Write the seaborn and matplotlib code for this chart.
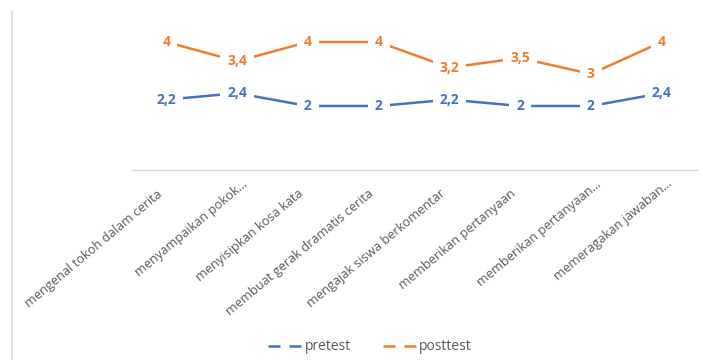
import matplotlib
matplotlib.use("Agg")
import matplotlib.pyplot as plt
import matplotlib.transforms as mtransforms
import seaborn as sns
import pandas as pd
from matplotlib.lines import Line2D

categories = ["mengenal tokoh dalam cerita", "menyampaikan pokok...", "menyisipkan kosa kata",
              "membuat gerak dramatis cerita", "mengajak siswa berkomentar", "memberikan pertanyaan",
              "memberikan pertanyaan...", "memeragakan jawaban..."]
pretest = [2.2, 2.4, 2, 2, 2.2, 2, 2, 2.4]
posttest = [4, 3.4, 4, 4, 3.2, 3.5, 3, 4]
series_names = ["pretest", "posttest"]
colors = ["#4472C4", "#ED7D31"]

sns.set_theme(style="white")
plt.rcParams['font.family'] = ['Open Sans', 'DejaVu Sans']

df = pd.DataFrame({
    "x": list(range(len(categories))) * 2,
    "value": pretest + posttest,
    "series": ["pretest"] * len(categories) + ["posttest"] * len(categories),
})

fig = plt.figure(figsize=(7.03, 3.6), dpi=100)
ax = fig.add_axes([131 / 703, 1 - 170 / 360, 566 / 703, 160 / 360])
sns.lineplot(data=df, x="x", y="value", hue="series", palette=dict(zip(series_names, colors)),
             linewidth=1.8, ax=ax, legend=False, zorder=2)

for vals, c in zip([pretest, posttest], colors):
    for i, v in enumerate(vals):
        ax.text(i, v, f"{v:g}".replace(".", ","), color=c, fontsize=10, fontweight="bold",
                ha="center", va="center", zorder=3,
                bbox=dict(boxstyle="square,pad=0.5", fc="white", ec="none"))

ax.set_xlim(-0.5, len(categories) - 0.5)
ax.set_ylim(0, 5)
ax.set_xticks(range(len(categories)))
ax.set_xticklabels(categories, rotation=40, ha="right", va="baseline", rotation_mode="anchor",
                   fontsize=9.2, color="#595959")
ax.tick_params(axis="x", length=0, pad=18)
for lbl in ax.get_xticklabels():
    if lbl.get_text().endswith("..."):
        off = mtransforms.ScaledTranslation(11 / 100, 10 / 100, fig.dpi_scale_trans)
    else:
        off = mtransforms.ScaledTranslation(-4 / 100, 0, fig.dpi_scale_trans)
    lbl.set_transform(lbl.get_transform() + off)
ax.set_yticks([])
ax.set_xlabel("")
ax.set_ylabel("")
for s in ["top", "left", "right"]:
    ax.spines[s].set_visible(False)
ax.spines["bottom"].set_color("#D9D9D9")
ax.spines["bottom"].set_linewidth(1)

# left frame line with small ticks
ax2 = fig.add_axes([12 / 703, 0, 0.001, 1 - 12 / 360])
ax2.set_facecolor("none")
for s in ["top", "bottom", "right"]:
    ax2.spines[s].set_visible(False)
ax2.spines["left"].set_color("#D9D9D9")
ax2.set_xticks([])
ax2.set_ylim(0, 348)
ax2.set_yticks([348 - (t - 12) for t in [25, 43, 61, 78, 96, 113, 131, 148, 166, 183, 201, 218, 236, 253, 271, 288, 306, 323, 341]])
ax2.set_yticklabels([])
ax2.tick_params(axis="y", length=2, width=0.8, color="#7F7F7F", direction="out")

handles = [Line2D([0], [0], color=c, lw=1.8, linestyle=(0, (4.8, 3.6))) for c in colors]
fig.legend(handles, series_names, loc="center", bbox_to_anchor=(370 / 703, 1 - 347 / 360),
           ncol=2, frameon=False, fontsize=10, handlelength=2.4, handletextpad=0.2,
           columnspacing=2.3, labelcolor="#595959")

fig.savefig("out.png", dpi=100)
